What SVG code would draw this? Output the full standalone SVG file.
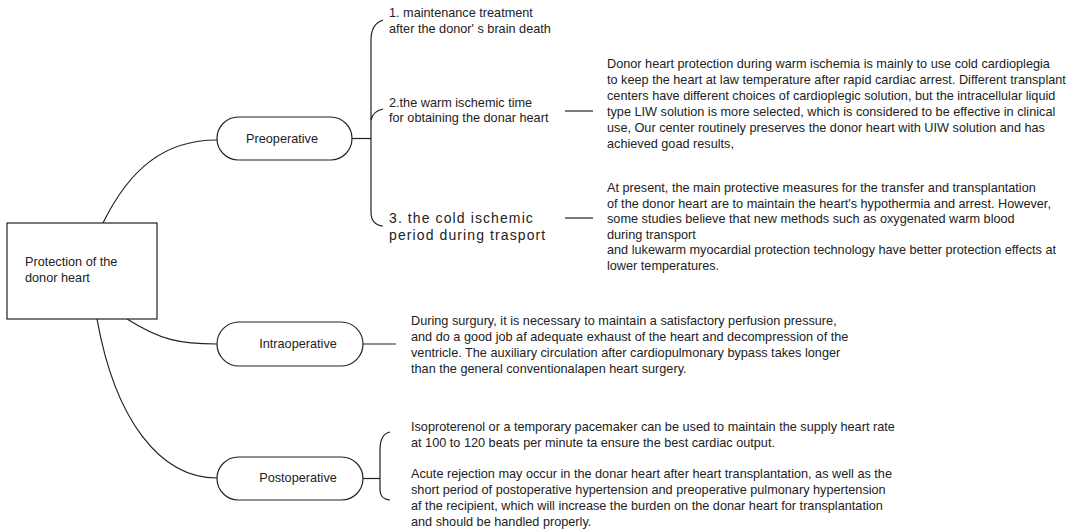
<svg xmlns="http://www.w3.org/2000/svg" width="1090" height="532" viewBox="0 0 1090 532">
<style>
text{font-family:"Liberation Sans",Arial,sans-serif;font-size:12.7px;fill:#222}
.big{font-size:14px;letter-spacing:1.1px}
.ln{fill:none;stroke:#222;stroke-width:1.2}
.box{fill:#fff;stroke:#222;stroke-width:1.2}
</style>
<rect width="1090" height="532" fill="#fff"/>
<g id="connectors">
<path class="ln" d="M103,223 C130,168 165,140 217,140"/>
<path class="ln" d="M127,319 C160,340 180,344 217,344"/>
<path class="ln" d="M97,319 C115,420 160,478 217,478"/>
<path class="ln" d="M352,138.5 L371,138.5"/>
<path class="ln" d="M383,20 Q371,24 371,40 L371,212 Q371,225 383,226"/>
<path class="ln" d="M383,109 Q373,111 371,120"/>
<path class="ln" d="M565,111 L593,111"/>
<path class="ln" d="M565,218 L593,218"/>
<path class="ln" d="M363,344 L396,344"/>
<path class="ln" d="M363,478.5 L380,478.5"/>
<path class="ln" d="M390,432 Q380,434 380,450 L380,490 Q380,499 390,500"/>
</g>
<g id="root">
<rect class="box" x="7" y="223" width="150" height="96"/>
<text x="25" y="266">Protection of the</text>
<text x="25" y="282">donor heart</text>
</g>
<g id="preoperative">
<rect class="box" x="217" y="117" width="135" height="43" rx="21.5"/>
<text x="282" y="143" text-anchor="middle">Preoperative</text>
</g>
<g id="intraoperative">
<rect class="box" x="217" y="322" width="146" height="44" rx="22"/>
<text x="298" y="348" text-anchor="middle">Intraoperative</text>
</g>
<g id="postoperative">
<rect class="box" x="217" y="457" width="146" height="43" rx="21.5"/>
<text x="298" y="482" text-anchor="middle">Postoperative</text>
</g>
<g id="item1">
<text x="389" y="17">1. maintenance treatment</text>
<text x="389" y="33">after the donor' s brain death</text>
</g>
<g id="item2">
<text x="389" y="107">2.the warm ischemic time</text>
<text x="389" y="122">for obtaining the donar heart</text>
</g>
<g id="item3">
<text class="big" x="389" y="223">3. the cold ischemic</text>
<text class="big" x="389" y="240">period during trasport</text>
</g>
<g id="warm-text">
<text x="607" y="68">Donor heart protection during warm ischemia is mainly to use cold cardioplegia</text>
<text x="607" y="84">to keep the heart at law temperature after rapid cardiac arrest. Different transplant</text>
<text x="607" y="100">centers have different choices of cardioplegic solution, but the intracellular liquid</text>
<text x="607" y="116">type LIW solution is more selected, which is considered to be effective in clinical</text>
<text x="607" y="132">use, Our center routinely preserves the donor heart with UIW solution and has</text>
<text x="607" y="148">achieved goad results,</text>
</g>
<g id="cold-text">
<text x="607" y="192">At present, the main protective measures for the transfer and transplantation</text>
<text x="607" y="207.5">of the donor heart are to maintain the heart's hypothermia and arrest. However,</text>
<text x="607" y="223">some studies believe that new methods such as oxygenated warm blood</text>
<text x="607" y="238.5">during transport</text>
<text x="607" y="254">and lukewarm myocardial protection technology have better protection effects at</text>
<text x="607" y="269.5">lower temperatures.</text>
</g>
<g id="intra-text">
<text x="411" y="325">During surgury, it is necessary to maintain a satisfactory perfusion pressure,</text>
<text x="411" y="341">and do a good job af adequate exhaust of the heart and decompression of the</text>
<text x="411" y="357">ventricle. The auxiliary circulation after cardiopulmonary bypass takes longer</text>
<text x="411" y="373">than the general conventionalapen heart surgery.</text>
</g>
<g id="post-text">
<text x="411" y="431">Isoproterenol or a temporary pacemaker can be used to maintain the supply heart rate</text>
<text x="411" y="447">at 100 to 120 beats per minute ta ensure the best cardiac output.</text>
<text x="411" y="478">Acute rejection may occur in the donar heart after heart transplantation, as well as the</text>
<text x="411" y="494">short period of postoperative hypertension and preoperative pulmonary hypertension</text>
<text x="411" y="510">af the recipient, which will increase the burden on the donar heart for transplantation</text>
<text x="411" y="526">and should be handled properly.</text>
</g>
</svg>
